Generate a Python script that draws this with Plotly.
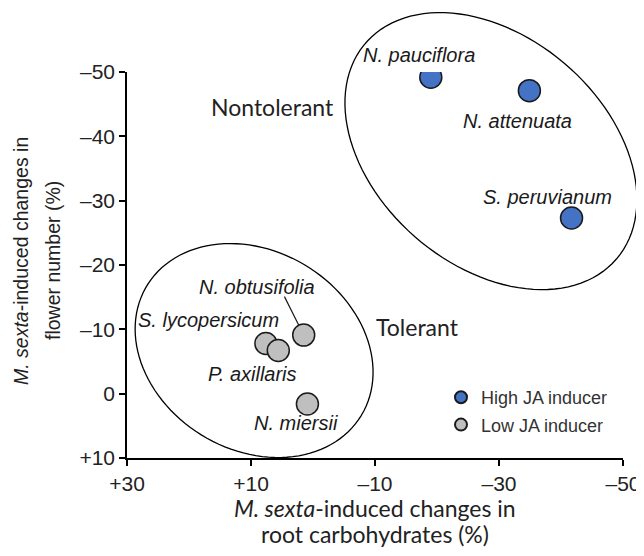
import numpy as np
import plotly.graph_objects as go

# ---------------- data ----------------
high_species = ["N. pauciflora", "N. attenuata", "S. peruvianum"]
high_carb = [-19.0, -34.9, -41.7]
high_flower = [-49.2, -47.1, -27.3]

low_species = ["N. obtusifolia", "S. lycopersicum", "P. axillaris", "N. miersii"]
low_carb = [1.5, 7.6, 5.6, 0.9]
low_flower = [-9.1, -7.8, -6.7, 1.6]

x_tickvals = [30, 10, -10, -30, -50]
x_ticktext = ["+30", "+10", "\u201310", "\u201330", "\u201350"]
y_tickvals = [-50, -40, -30, -20, -10, 0, 10]
y_ticktext = ["\u201350", "\u201340", "\u201330", "\u201320", "\u201310", "0", "+10"]

group_names = ["Nontolerant", "Tolerant"]
group_label_x = [6.6, -16.8]
group_label_y = [-44.6, -10.4]

y_title_lines = ["<i>M. sexta</i>-induced changes in", "flower number (%)"]
x_title_lines = ["<i>M. sexta</i>-induced changes in", "root carbohydrates (%)"]

# ---------------- layout geometry ----------------
OFF = 8  # page body margin
W, H = 644 - OFF, 556 - OFF
ML, MR, MT, MB = 127 - OFF, 21, 72 - OFF, 98
PW, PH = W - ML - MR, H - MT - MB
XR = [30, -50]
YR = [10, -50]

def to_paper(x, y):
    return (x - XR[0]) / (XR[1] - XR[0]), (y - YR[0]) / (YR[1] - YR[0])

def px_to_paper(px, py):
    return (px - OFF - ML) / PW, (OFF + MT + PH - py) / PH

def ellipse_path(cx, cy, a_px, b_px, theta_deg, n=120):
    cxp, cyp = to_paper(cx, cy)
    th = np.radians(theta_deg)
    t = np.linspace(0, 2 * np.pi, n)
    sx = a_px * np.cos(t) * np.cos(th) - b_px * np.sin(t) * np.sin(th)
    sy = a_px * np.cos(t) * np.sin(th) + b_px * np.sin(t) * np.cos(th)
    X = cxp + sx / PW
    Y = cyp - sy / PH
    d = "M %.5f,%.5f " % (X[0], Y[0])
    d += " ".join("L %.5f,%.5f" % (xx, yy) for xx, yy in zip(X[1:], Y[1:]))
    return d + " Z"

fig = go.Figure()

fig.add_trace(go.Scatter(
    x=high_carb, y=high_flower, mode="markers", name="High JA inducer",
    legendgroup="h",
    marker=dict(size=22, color="#4472C4", line=dict(color="#1a1a1a", width=1.5)),
    hoverinfo="skip"))
fig.add_trace(go.Scatter(
    x=low_carb, y=low_flower, mode="markers", name="Low JA inducer",
    legendgroup="l",
    marker=dict(size=22, color="#BFBFBF", line=dict(color="#1a1a1a", width=1.5)),
    hoverinfo="skip"))

shapes = [
    dict(type="path", xref="paper", yref="paper",
         path=ellipse_path(-28.7, -37.7, 165.5, 114.5, 40.7),
         line=dict(color="black", width=1.3), fillcolor="rgba(0,0,0,0)", layer="below"),
    dict(type="path", xref="paper", yref="paper",
         path=ellipse_path(9.5, -6.7, 125.3, 99.5, 31.1),
         line=dict(color="black", width=1.3), fillcolor="rgba(0,0,0,0)", layer="below"),
]

label_font = dict(family="Liberation Sans, Arial", size=20, color="#1a1a1a")
high_offsets = [(-12, -22), (-12, 30), (-24, -21)]
low_offsets = [(-47, -48), (-57, -23), (-26, 23), (-11, 19)]

annotations = []
for name, x, y, (dx, dy) in zip(high_species, high_carb, high_flower, high_offsets):
    annotations.append(dict(x=x, y=y, xref="x", yref="y", text="<i>%s</i>" % name,
                            showarrow=False, xshift=dx, yshift=-dy, font=label_font))
for name, x, y, (dx, dy) in zip(low_species, low_carb, low_flower, low_offsets):
    annotations.append(dict(x=x, y=y, xref="x", yref="y", text="<i>%s</i>" % name,
                            showarrow=False, xshift=dx, yshift=-dy, font=label_font))

annotations.append(dict(x=low_carb[0], y=low_flower[0], xref="x", yref="y", text="",
                        showarrow=True, arrowhead=0, arrowwidth=1.2, arrowcolor="#1a1a1a",
                        ax=-20, ay=-40, standoff=11))

for name, x, y in zip(group_names, group_label_x, group_label_y):
    annotations.append(dict(x=x, y=y, xref="x", yref="y", text=name, showarrow=False,
                            font=dict(family="Lato, Open Sans", size=23, color="#222")))

for line, pxc in zip(y_title_lines, [21, 53]):
    xp, yp = px_to_paper(pxc, 261)
    annotations.append(dict(x=xp, y=yp, xref="paper", yref="paper", text=line,
                            textangle=-90, showarrow=False, xanchor="center", yanchor="middle",
                            font=dict(family="Liberation Sans, Arial", size=19.5, color="#222")))
for line, pyc in zip(x_title_lines, [508, 534]):
    xp, yp = px_to_paper(375, pyc)
    annotations.append(dict(x=xp, y=yp, xref="paper", yref="paper", text=line,
                            showarrow=False, xanchor="center", yanchor="middle",
                            font=dict(family="Lato, Open Sans", size=23, color="#222")))

axis_common = dict(showline=True, linecolor="black", linewidth=1.5, ticks="outside",
                   ticklen=6, tickwidth=1.5, tickcolor="black", showgrid=False,
                   zeroline=False, mirror=False, automargin=False,
                   tickfont=dict(family="Liberation Sans, Arial", size=21, color="#222"))

lx, ly = px_to_paper(441, 379)
fig.update_layout(
    width=W, height=H,
    margin=dict(l=ML, r=MR, t=MT, b=MB),
    plot_bgcolor="white", paper_bgcolor="white",
    xaxis=dict(range=XR, tickvals=x_tickvals, ticktext=x_ticktext, **axis_common),
    yaxis=dict(range=YR, tickvals=y_tickvals, ticktext=y_ticktext, **axis_common),
    shapes=shapes, annotations=annotations,
    showlegend=True,
    legend=dict(x=lx, y=ly, xanchor="left", yanchor="top",
                bgcolor="rgba(0,0,0,0)", itemsizing="constant", tracegroupgap=1,
                font=dict(family="Liberation Sans, Arial", size=18, color="#333")),
)

fig.write_html("out.html")
